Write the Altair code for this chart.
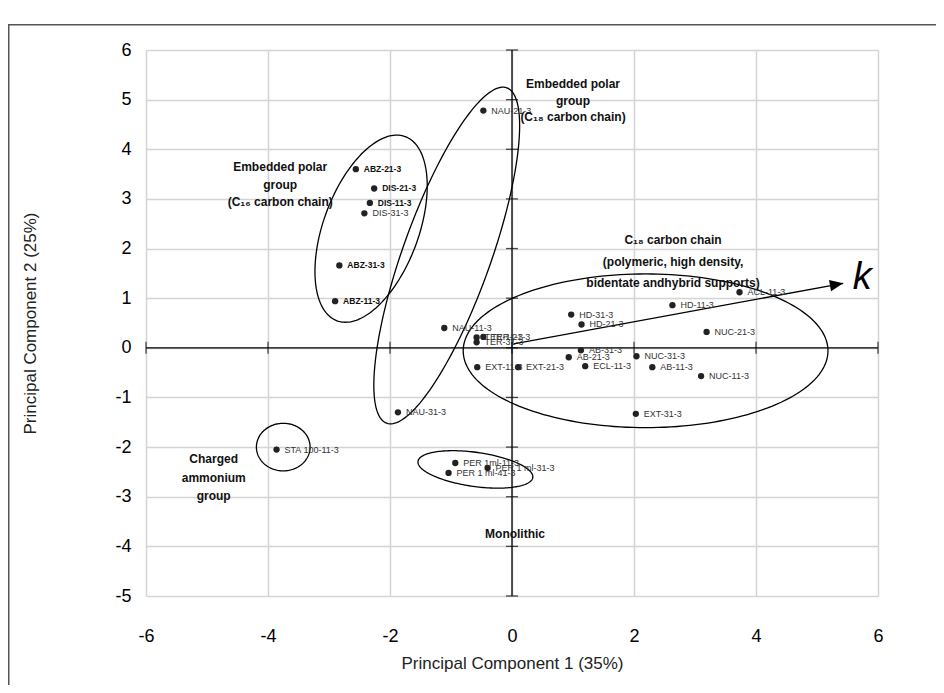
import altair as alt
import numpy as np
import pandas as pd

# ---------------- data ----------------
NAMES = ["NAU-21-3", "ABZ-21-3", "DIS-21-3", "DIS-11-3", "DIS-31-3", "ABZ-31-3", "ABZ-11-3",
         "NAU-11-3", "TER-11-3", "TER-21-3", "TER-31-3", "EXT-11-3", "EXT-21-3",
         "HD-31-3", "HD-21-3", "HD-11-3", "AB-31-3", "AB-21-3", "ECL-11-3", "NUC-31-3",
         "AB-11-3", "NUC-11-3", "NUC-21-3", "ACL-11-3", "EXT-31-3", "NAU-31-3",
         "STA 100-11-3", "PER 1ml-11-3", "PER 1 ml-41-3", "PER 1 ml-31-3"]
PC1 = [-0.47, -2.56, -2.26, -2.33, -2.42, -2.83, -2.90,
       -1.11, -0.58, -0.47, -0.58, -0.57, 0.10,
       0.97, 1.14, 2.63, 1.13, 0.93, 1.20, 2.04,
       2.30, 3.10, 3.19, 3.73, 2.03, -1.87,
       -3.86, -0.93, -1.04, -0.40]
PC2 = [4.78, 3.60, 3.21, 2.92, 2.71, 1.66, 0.94,
       0.40, 0.21, 0.22, 0.11, -0.39, -0.39,
       0.67, 0.47, 0.86, -0.05, -0.19, -0.37, -0.17,
       -0.39, -0.57, 0.32, 1.12, -1.33, -1.30,
       -2.05, -2.32, -2.52, -2.42]
BOLD_NAMES = ["ABZ-21-3", "DIS-21-3", "DIS-11-3", "ABZ-31-3", "ABZ-11-3"]

X_TICKS = [-6, -4, -2, 0, 2, 4, 6]
Y_TICKS = [-5, -4, -3, -2, -1, 0, 1, 2, 3, 4, 5, 6]

# ellipses: centre (data), semi-axes in x-units, rotation (deg, on screen)
ELL_NAMES = ["C16 polar", "C18 polar", "C18 chain", "ammonium", "monolithic"]
ELL_CX = [-2.31, -1.07, 2.19, -3.75, -0.60]
ELL_CY = [2.40, 1.86, -0.06, -2.00, -2.45]
ELL_A = [1.61, 2.92, 2.99, 0.44, 0.95]
ELL_B = [0.78, 0.72, 1.26, 0.39, 0.28]
ELL_ROT = [69.7, 70.3, 0.0, 0.0, -8.0]

# loading arrow "k"
ARROW_X = [0.03, 5.43]
ARROW_Y = [0.08, 1.30]

# annotations (position = first line)
ANN_TEXT = [["Embedded polar", "group", "(C\u2081\u2086 carbon chain)"],
            ["Embedded polar", "group", "(C\u2081\u2088 carbon chain)"],
            ["C\u2081\u2088 carbon chain", "(polymeric, high density,", "bidentate andhybrid supports)"],
            ["Charged", "ammonium", "group"],
            ["Monolithic"]]
ANN_X = [-3.80, 1.00, 2.64, -4.89, 0.05]
ANN_Y = [3.64, 5.31, 2.17, -2.24, -3.75]
ANN_LH = [17.5, 16.5, 21.5, 18.5, 16]

W, H = 732, 546
XMIN, XMAX, YMIN, YMAX = -6, 6, -5, 6
SX = W / (XMAX - XMIN)
SY = H / (YMAX - YMIN)
FONT = "Liberation Sans"

# ---------------- tables ----------------
pts = pd.DataFrame({"name": NAMES, "pc1": PC1, "pc2": PC2})
pts["bold"] = pts["name"].isin(BOLD_NAMES)

rows = []
phi = np.linspace(0, 2 * np.pi, 181)
for n, cx, cy, a, b, r in zip(ELL_NAMES, ELL_CX, ELL_CY, ELL_A, ELL_B, ELL_ROT):
    t = np.deg2rad(r)
    u = a * np.cos(phi) * np.cos(t) - b * np.sin(phi) * np.sin(t)
    v = a * np.cos(phi) * np.sin(t) + b * np.sin(phi) * np.cos(t)
    for i, (uu, vv) in enumerate(zip(u, v)):
        rows.append({"ell": n, "i": i, "x": cx + uu, "y": cy + vv * SX / SY})
ell = pd.DataFrame(rows)

arrow = pd.DataFrame({"x": ARROW_X, "y": ARROW_Y, "i": [0, 1]})
ang = np.degrees(np.arctan2((ARROW_Y[1] - ARROW_Y[0]) * SY, (ARROW_X[1] - ARROW_X[0]) * SX))
head = pd.DataFrame({"x": [ARROW_X[1]], "y": [ARROW_Y[1]]})

xt = pd.DataFrame({"x": X_TICKS, "y": [0] * len(X_TICKS)})
yt = pd.DataFrame({"x": [0] * len(Y_TICKS), "y": Y_TICKS})
zero = pd.DataFrame({"z": [0]})

ann = pd.DataFrame({"x": ANN_X, "y": ANN_Y, "t": ANN_TEXT})

# ---------------- scales / axes ----------------
xs = alt.Scale(domain=[XMIN, XMAX], nice=False, zero=False)
ys = alt.Scale(domain=[YMIN, YMAX], nice=False, zero=False)
xaxis = alt.Axis(values=X_TICKS, grid=True, gridColor="#d4d4d4", gridWidth=1.5,
                 domain=False, ticks=False, labelFontSize=18, labelFont=FONT,
                 labelColor="black", labelPadding=40, labelBaseline="middle",
                 labelFlush=False, labelOverlap=False, labelBound=False,
                 labelExpr="'' + datum.value",
                 title="Principal Component 1 (35%)", titleFontSize=17, titleFont=FONT,
                 titleFontWeight="normal", titleColor="#222", titleY=67,
                 titleBaseline="middle")
yaxis = alt.Axis(values=Y_TICKS, grid=True, gridColor="#d4d4d4", gridWidth=1.5,
                 domain=False, ticks=False, labelFontSize=18, labelFont=FONT,
                 labelColor="black", labelPadding=15, labelFlush=False,
                 labelOverlap=False, labelBound=False,
                 labelExpr="'' + datum.value",
                 title="Principal Component 2 (25%)", titleFontSize=17, titleFont=FONT,
                 titleFontWeight="normal", titleColor="#222", titleX=-116, titleY=H / 2,
                 titleAlign="center", titleBaseline="middle")


def X(f):
    return alt.X(f"{f}:Q", scale=xs, axis=xaxis)


def Y(f):
    return alt.Y(f"{f}:Q", scale=ys, axis=yaxis)


frame = alt.Chart(zero).mark_rect(fillOpacity=0, stroke="#555", strokeWidth=1.5).encode(
    x=alt.value(-137.25), x2=alt.value(900), y=alt.value(-25.25), y2=alt.value(720))

grid_base = alt.Chart(pts).mark_point(opacity=0).encode(x=X("pc1"), y=Y("pc2"))

vline = alt.Chart(zero).mark_rule(color="black", strokeWidth=1.3).encode(x=X("z"))
hline = alt.Chart(zero).mark_rule(color="black", strokeWidth=1.3).encode(y=Y("z"))

xtk = alt.Chart(xt).mark_tick(orient="vertical", size=12, thickness=1.3, color="black").encode(
    x=X("x"), y=Y("y"))
ytk = alt.Chart(yt).mark_tick(orient="horizontal", size=12, thickness=1.3, color="black").encode(
    x=X("x"), y=Y("y"))

ellipses = alt.Chart(ell).mark_line(color="black", strokeWidth=1.3).encode(
    x=X("x"), y=Y("y"), detail="ell:N", order="i:Q")

arrow_line = alt.Chart(arrow).mark_line(color="black", strokeWidth=1.3).encode(
    x=X("x"), y=Y("y"), order="i:Q")
arrow_head = alt.Chart(head).mark_point(
    shape="M0,0 L-2,-0.85 L-2,0.85 Z", size=180, filled=True, color="black", opacity=1,
    angle=float((360 - ang) % 360)).encode(x=X("x"), y=Y("y"))

points = alt.Chart(pts).mark_circle(size=40, color="#222", opacity=1).encode(
    x=X("pc1"), y=Y("pc2"))

lab_norm = alt.Chart(pts).transform_filter("!datum.bold").mark_text(
    align="left", baseline="middle", dx=8, fontSize=9, font=FONT, color="#333").encode(
    x=X("pc1"), y=Y("pc2"), text="name:N")
lab_bold = alt.Chart(pts).transform_filter("datum.bold").mark_text(
    align="left", baseline="middle", dx=8, fontSize=8.5, font=FONT, fontWeight="bold",
    color="#111").encode(x=X("pc1"), y=Y("pc2"), text="name:N")

ann_layers = []
for k in range(len(ANN_X)):
    ann_layers.append(
        alt.Chart(ann.iloc[[k]]).mark_text(
            align="center", baseline="middle", fontSize=12, font=FONT, fontWeight="bold",
            color="#111", lineHeight=ANN_LH[k]).encode(x=X("x"), y=Y("y"), text="t"))

kdf = pd.DataFrame({"x": [5.74], "y": [1.41], "t": ["k"]})
klabel = alt.Chart(kdf).mark_text(align="center", baseline="middle", fontSize=38,
                                  font=FONT, fontStyle="italic", color="black").encode(
    x=X("x"), y=Y("y"), text="t:N")

chart = alt.layer(frame, grid_base, vline, hline, xtk, ytk, ellipses, arrow_line, arrow_head,
                  points, lab_norm, lab_bold, *ann_layers, klabel).properties(
    width=W, height=H,
    padding={"left": 138, "top": 42, "right": 58, "bottom": 89},
    autosize=alt.AutoSizeParams(type="none"),
    background="white",
).configure_view(strokeWidth=0)

chart.save("out.html", embed_options={"renderer": "svg", "actions": False})
